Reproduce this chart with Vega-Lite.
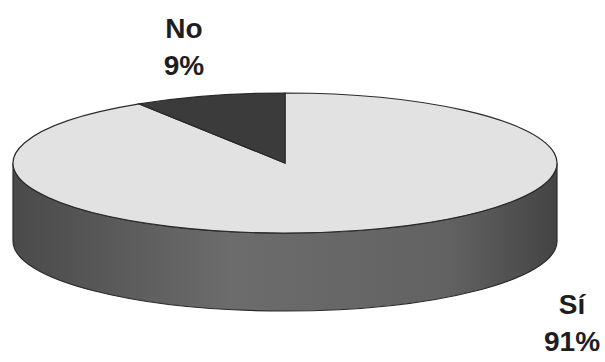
{
  "$schema": "https://vega.github.io/schema/vega-lite/v6.json",
  "width": 605,
  "height": 362,
  "autosize": {"type": "fit", "contains": "padding"},
  "padding": {"left": 0, "top": 0, "right": 35, "bottom": 36},
  "background": "#ffffff",
  "config": {"view": {"stroke": null}},
  "data": {
    "values": [
      {"respuesta": "Sí", "porcentaje": 91},
      {"respuesta": "No", "porcentaje": 9}
    ]
  },
  "transform": [
    {"window": [{"op": "sum", "field": "porcentaje", "as": "acumulado"}], "frame": [null, 0]},
    {"joinaggregate": [{"op": "sum", "field": "porcentaje", "as": "total"}]},
    {"calculate": "2 * PI * (datum.acumulado - datum.porcentaje) / datum.total", "as": "a0"},
    {"calculate": "2 * PI * datum.acumulado / datum.total", "as": "a1"},
    {"calculate": "'M0,0L' + round(sin(datum.a0) * 100000) / 100000 + ',' + round(-0.2574 * cos(datum.a0) * 100000) / 100000 + 'A1,0.2574,0,' + (datum.a1 - datum.a0 > PI ? 1 : 0) + ',1,' + round(sin(datum.a1) * 100000) / 100000 + ',' + round(-0.2574 * cos(datum.a1) * 100000) / 100000 + 'Z'", "as": "sector"},
    {"calculate": "datum.respuesta + '\\n' + datum.porcentaje + '%'", "as": "etiqueta"}
  ],
  "layer": [
    {
      "transform": [{"filter": "datum.respuesta === 'Sí'"}],
      "mark": {
        "type": "point",
        "shape": "M-1,0A1,0.2574,0,0,0,1,0L1,0.2868A1,0.2574,0,0,1,-1,0.2868Z",
        "size": 295936,
        "filled": true,
        "opacity": 1,
        "fill": {
          "gradient": "linear",
          "x1": 0, "y1": 0, "x2": 1, "y2": 0,
          "stops": [
            {"offset": 0, "color": "#4a4a4a"},
            {"offset": 0.4, "color": "#6c6c6c"},
            {"offset": 0.8, "color": "#626262"},
            {"offset": 1, "color": "#444444"}
          ]
        },
        "stroke": "#2a2a2a",
        "strokeWidth": 1.2
      },
      "encoding": {}
    },
    {
      "mark": {
        "type": "point",
        "size": 295936,
        "filled": true,
        "opacity": 1,
        "stroke": "#2a2a2a",
        "strokeWidth": 1.2
      },
      "encoding": {
        "shape": {"field": "sector", "type": "nominal", "scale": null, "legend": null},
        "color": {
          "field": "respuesta",
          "type": "nominal",
          "scale": {"domain": ["Sí", "No"], "range": ["#e2e2e2", "#3b3b3b"]},
          "legend": null
        }
      }
    },
    {
      "mark": {
        "type": "text",
        "font": "Liberation Sans",
        "fontSize": 28,
        "fontWeight": "bold",
        "align": "center",
        "baseline": "alphabetic",
        "lineBreak": "\n",
        "lineHeight": 37,
        "color": "#1e1e1e"
      },
      "encoding": {
        "text": {"field": "etiqueta"},
        "x": {
          "field": "respuesta",
          "type": "nominal",
          "scale": {"type": "point", "domain": ["No", "Sí"], "range": [184, 572], "padding": 0},
          "axis": null
        },
        "y": {
          "field": "respuesta",
          "type": "nominal",
          "scale": {"type": "point", "domain": ["No", "Sí"], "range": [38, 314], "padding": 0},
          "axis": null
        }
      }
    }
  ]
}
